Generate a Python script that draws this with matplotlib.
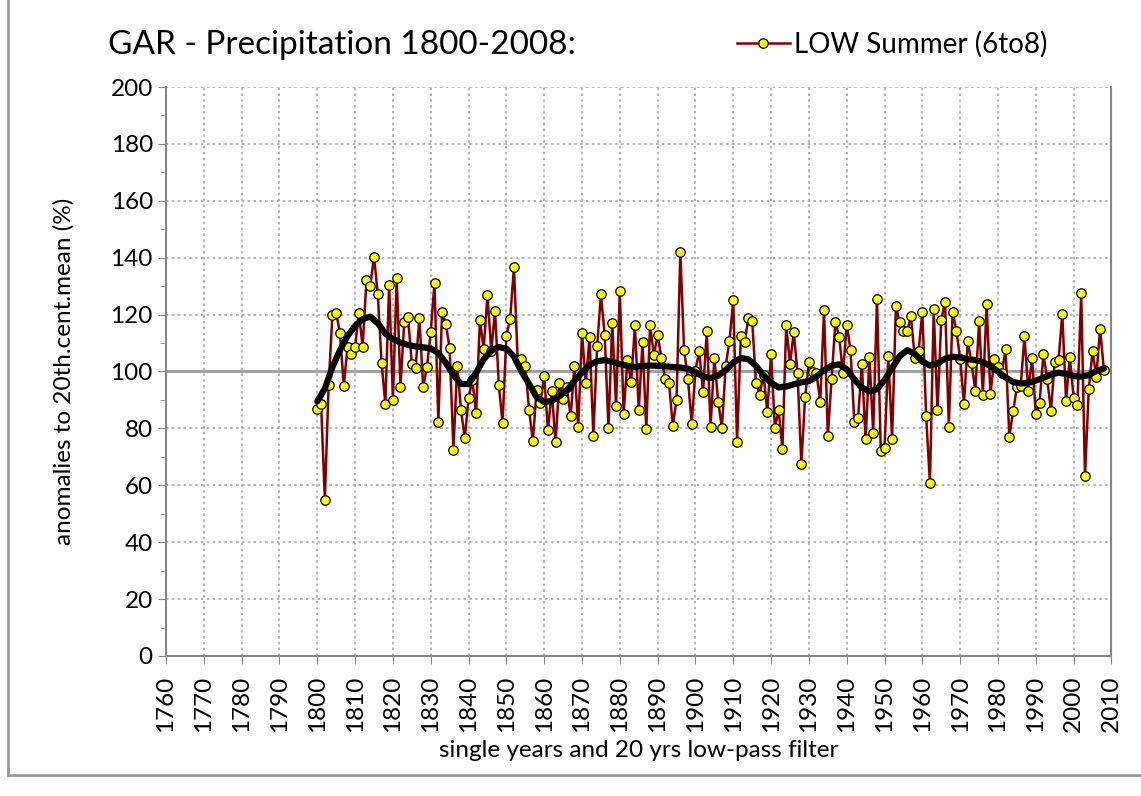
import numpy as np
import matplotlib
matplotlib.use("Agg")
from matplotlib import pyplot as plt
from matplotlib.lines import Line2D

plt.rcParams['font.family'] = ['Lato', 'DejaVu Sans']

# single years 1800-2008, anomalies to 20th century mean (%)
years = np.arange(1800, 2009)
summer_precip = [
    86.7, 88.7, 55.0, 95.3, 119.8, 120.5, 113.6, 95.0, 108.5, 106.3,
    108.6, 120.5, 108.7, 132.0, 130.0, 140.4, 127.2, 103.0, 88.5, 130.5,
    89.9, 133.0, 94.7, 117.5, 119.0, 102.6, 101.4, 118.9, 94.6, 101.5,
    114.0, 131.1, 82.2, 121.0, 116.7, 108.2, 72.5, 102.1, 86.5, 76.5,
    90.6, 97.0, 85.3, 118.0, 108.0, 126.9, 107.2, 121.4, 95.3, 81.8,
    112.6, 118.5, 136.7, 103.9, 104.3, 101.8, 86.5, 75.5, 93.4, 89.1,
    98.5, 79.3, 93.3, 75.1, 96.1, 90.3, 94.4, 84.2, 102.1, 80.6,
    113.6, 95.9, 112.2, 77.5, 108.8, 127.1, 112.8, 80.2, 117.0, 87.8,
    128.4, 85.1, 104.0, 96.2, 116.3, 86.4, 110.4, 79.8, 116.4, 105.8,
    112.8, 104.9, 97.5, 96.1, 80.9, 90.0, 142.1, 107.4, 97.5, 81.7,
    100.2, 107.3, 92.7, 114.3, 80.6, 104.8, 89.4, 80.2, 102.1, 110.8,
    125.2, 75.1, 112.4, 110.3, 118.9, 117.8, 96.1, 91.9, 98.9, 85.8,
    106.3, 80.2, 86.4, 72.9, 116.3, 102.6, 113.8, 99.3, 67.4, 91.1,
    103.2, 99.9, 99.4, 89.2, 121.7, 77.3, 97.4, 117.5, 112.3, 99.3,
    116.5, 107.7, 82.4, 83.7, 102.5, 76.1, 105.0, 78.4, 125.5, 72.2,
    73.2, 105.5, 76.2, 122.9, 117.3, 114.3, 114.2, 119.4, 104.6, 107.2,
    121.0, 84.4, 60.7, 121.8, 86.3, 118.2, 124.4, 80.5, 121.0, 114.3,
    104.3, 88.5, 110.7, 103.0, 93.3, 117.7, 91.8, 123.8, 92.0, 104.3,
    101.5, 99.4, 107.9, 77.1, 86.0, 94.5, 94.8, 112.4, 93.1, 104.8,
    85.0, 89.0, 106.0, 97.5, 86.2, 103.4, 103.9, 120.3, 89.8, 105.0,
    90.8, 88.1, 127.7, 63.1, 93.7, 107.2, 98.1, 115.1, 100.6,
]

# 20 yrs low-pass filter, every 2 years
filter_years = np.arange(1800, 2010, 2)
filter_vals = [
    89.5, 94.0, 101.5, 107.5, 112.5, 116.0, 118.4, 119.3, 117.0, 113.3,
    111.4, 110.2, 109.3, 108.8, 108.5, 108.1, 106.5, 103.0, 98.8, 95.6,
    95.6, 99.5, 104.3, 107.3, 108.6, 108.0, 105.3, 100.0, 95.6, 91.0,
    89.3, 89.6, 91.3, 93.4, 96.7, 99.6, 102.3, 103.6, 104.0, 103.4,
    102.6, 102.0, 101.6, 101.9, 102.1, 102.0, 101.8, 101.6, 101.4, 101.0,
    99.8, 98.2, 97.7, 98.5, 100.5, 103.2, 104.7, 104.3, 102.0, 98.7,
    96.0, 94.4, 94.7, 95.5, 96.2, 96.6, 98.2, 100.5, 102.0, 102.5,
    100.8, 97.2, 94.3, 93.0, 93.8, 97.0, 101.2, 105.4, 107.5, 106.2,
    103.5, 102.1, 102.8, 104.5, 105.2, 104.9, 104.4, 104.0, 103.3, 101.9,
    100.0, 97.9, 96.3, 95.8, 96.0, 96.8, 97.8, 98.9, 99.6, 99.1,
    98.4, 98.2, 98.7, 100.2, 101.0,
]

xticks = np.arange(1760, 2011, 10)
yticks = np.arange(0, 201, 20)

fig = plt.figure(figsize=(11.41, 7.96), dpi=100)
ax = fig.add_axes([0.1455, 0.1759, 0.8286, 0.7148])

grid_col = '#a6a6a6'
ax.set_xlim(1760, 2010)
ax.set_ylim(0, 200)
ax.set_xticks(xticks)
ax.set_xticklabels([str(x) for x in xticks], rotation=90, fontsize=17.5)
ax.set_yticks(yticks)
ax.set_yticks(np.arange(10, 200, 20), minor=True)
ax.tick_params(axis='y', labelsize=17.5, length=6, color='#868686', direction='out')
ax.tick_params(axis='y', which='minor', length=4, color='#868686')
ax.tick_params(axis='x', length=6, color='#868686', direction='out', pad=8)
ax.grid(True, which='major', color=grid_col, linestyle=(0, (1.5, 2)), linewidth=1.2)
ax.set_axisbelow(True)

for s in ['left', 'bottom', 'right']:
    ax.spines[s].set_color('#868686')
    ax.spines[s].set_linewidth(1.5)
ax.spines['top'].set_visible(False)

ax.axhline(100, color='#a0a0a0', linewidth=2.2, zorder=1)

ax.plot(years, summer_precip, color='#800000', linewidth=1.8,
        marker='o', markersize=6.8, markerfacecolor='#ffff00',
        markeredgecolor='black', markeredgewidth=0.9, zorder=3,
        label='LOW Summer (6to8)')
ax.plot(filter_years, filter_vals, color='black', linewidth=4.5,
        solid_capstyle='round', zorder=4)

ax.set_ylabel('anomalies to 20th.cent.mean (%)', fontsize=17.5, labelpad=26)
ax.set_xlabel('single years and 20 yrs low-pass filter', fontsize=17.5, labelpad=6)

fig.text(0.095, 0.943, 'GAR - Precipitation 1800-2008:', fontsize=24,
         va='center', ha='left')
fig.legend(loc='center left', bbox_to_anchor=(0.636, 0.944), frameon=False,
           fontsize=20, handlelength=1.9, handletextpad=0.15, borderaxespad=0)

# outer chart frame
fig.add_artist(Line2D([0.007, 0.007], [0.026, 1.0], color='#9a9a9a', linewidth=2))
fig.add_artist(Line2D([0.007, 1.0], [0.026, 0.026], color='#9a9a9a', linewidth=2))

plt.savefig('out.png', dpi=100)
